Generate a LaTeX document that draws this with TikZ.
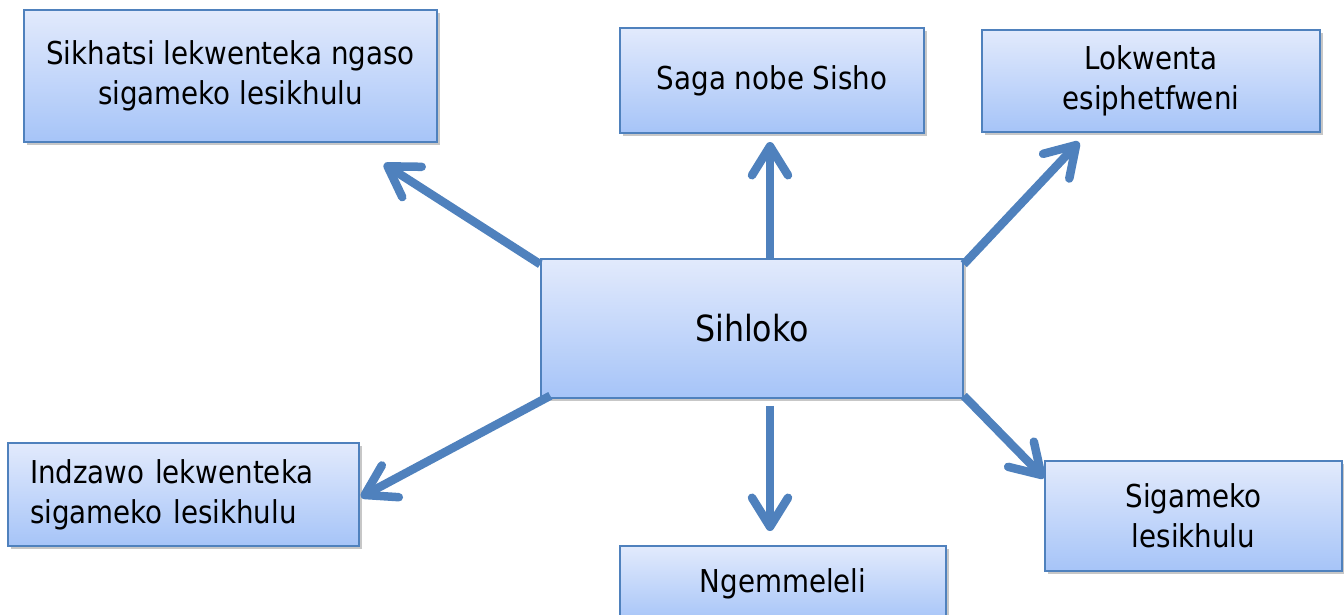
\documentclass[tikz,border=0pt]{standalone}
\usepackage{fontspec}
\setmainfont{DejaVu Sans}[FakeStretch=0.88]
\usetikzlibrary{arrows.meta,shadows,calc}
\definecolor{boxline}{RGB}{79,129,189}
\definecolor{boxtop}{RGB}{226,234,252}
\definecolor{boxbot}{RGB}{166,196,248}
\definecolor{arrowcol}{RGB}{79,129,189}
\tikzset{
  box/.style={draw=boxline, line width=1.5pt, top color=boxtop, bottom color=boxbot,
    rectangle, inner sep=4pt, align=center, text=black,
    font=\fontsize{31.5}{40}\selectfont,
    drop shadow={shadow xshift=3pt, shadow yshift=-3pt, opacity=0.22, fill=black}},
  conn/.style={draw=arrowcol, line width=8.5pt,
    -{Straight Barb[round, length=29pt, width=36pt]}}
}
\begin{document}
\begin{tikzpicture}[x=1pt, y=-1pt]
\useasboundingbox (0,0) rectangle (1344,614);
\node[box, minimum width=413pt, minimum height=132pt] (sik) at (230.5,76) {Sikhatsi lekwenteka ngaso\\sigameko lesikhulu};
\node[box, minimum width=304pt, minimum height=105pt] (saga) at (772,80.5) {Saga nobe Sisho};
\node[box, minimum width=338pt, minimum height=102pt] (lok) at (1151,81) {Lokwenta\\esiphetfweni};
\node[box, minimum width=422pt, minimum height=139pt, font=\fontsize{36}{44}\selectfont] (sih) at (752,328.5) {Sihloko};
\node[box, minimum width=351pt, minimum height=103pt, text width=307pt, inner xsep=22pt, align=left] (ind) at (183.5,494.5) {Indzawo lekwenteka\\sigameko lesikhulu};
\node[box, minimum width=326pt, minimum height=76pt] (nge) at (783,584) {Ngemmeleli};
\node[box, minimum width=297pt, minimum height=110pt] (sig) at (1193.5,516) {Sigameko\\lesikhulu};

\coordinate (tsik) at (384,164);
\coordinate (tsaga) at (770,142);
\coordinate (tlok) at (1079,142);
\coordinate (tind) at (361,497);
\coordinate (tnge) at (770,531);

\draw[conn] ($(sih.north west)+(0,6)$) -- (tsik);
\draw[conn] (sih.north -| tsaga) -- (tsaga);
\draw[conn] ($(sih.north east)+(0,6)$) -- (tlok);
\draw[conn] ($(sih.south west)+(10,-3)$) -- (tind);
\draw[conn] ($(sih.south -| tnge)+(0,7)$) -- (tnge);
\draw[conn] ($(sih.south east)+(0,-3)$) -- ($(sig.west)+(0,-38)$);
\end{tikzpicture}
\end{document}
